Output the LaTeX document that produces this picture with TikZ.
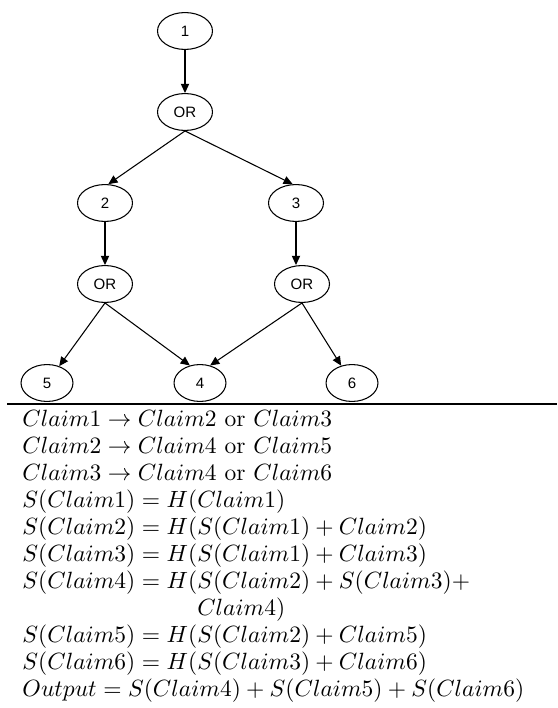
\documentclass[tikz,border=0pt]{standalone}
\usepackage{fontspec}
\newfontfamily\nodefont{Liberation Sans}
\usetikzlibrary{arrows.meta,shapes.geometric}

\tikzset{
  claim/.style={draw, ellipse, line width=0.45pt, inner sep=0pt,
    minimum width=23.4pt, minimum height=15.7pt, font=\fontsize{6.4}{7.5}\nodefont},
  leaf/.style={claim, minimum width=22.1pt},
  gate/.style={claim},
  edge/.style={-{Triangle[length=3.9pt,width=3.5pt]}, line width=0.45pt},
  eq/.style={anchor=base west, inner sep=0pt, font=\fontsize{10}{12}\selectfont}
}

\begin{document}
\begin{tikzpicture}[x=0.4255pt, y=-0.4255pt]
  \useasboundingbox (0,0) rectangle (557,708);
  % claim tree
  \node[claim] (c1) at (185,31) {1};
  \node[gate] (orTop) at (185,112) {OR};
  \node[claim] (c2) at (105,203) {2};
  \node[claim] (c3) at (296,203) {3};
  \node[gate] (orLeft) at (105,284) {OR};
  \node[gate] (orRight) at (302,284) {OR};
  \node[leaf] (c5) at (47,383) {5};
  \node[leaf] (c4) at (200,383) {4};
  \node[leaf] (c6) at (352,383) {6};
  % edges
  \draw[edge] (c1) -- (orTop);
  \draw[edge] (orTop.south) -- (c2.80);
  \draw[edge] (orTop.south) -- (c3.100);
  \draw[edge] (c2) -- (orLeft);
  \draw[edge] (c3) -- (c3 |- orRight.north);
  \draw[edge] (orLeft.south) -- (c5);
  \draw[edge] (orLeft.south) -- (c4.120);
  \draw[edge] (orRight.south) -- (c4.60);
  \draw[edge] (orRight.south) -- (c6);
  % separating rule
  \coordinate (ruleL) at (7,404);
  \coordinate (ruleR) at (557,404);
  \draw[line width=0.55pt] (ruleL) -- (ruleR);
  % hash rules
  \node[eq] (eq1) at (22,426) {$Claim1 \rightarrow Claim2$ or $Claim3$};
  \node[eq] (eq2) at (22,453) {$Claim2 \rightarrow Claim4$ or $Claim5$};
  \node[eq] (eq3) at (22,480) {$Claim3 \rightarrow Claim4$ or $Claim6$};
  \node[eq] (eq4) at (22,507) {$S(Claim1) = H(Claim1)$};
  \node[eq] (eq5) at (22,534) {$S(Claim2) = H(S(Claim1) + Claim2)$};
  \node[eq] (eq6) at (22,561) {$S(Claim3) = H(S(Claim1) + Claim3)$};
  \node[eq] (eq7) at (22,588) {$S(Claim4) = H(S(Claim2) + S(Claim3)+$};
  \node[eq] (eq7b) at (22,615) {$\phantom{S(Claim4) = H(}Claim4)$};
  \node[eq] (eq8) at (22,642) {$S(Claim5) = H(S(Claim2) + Claim5)$};
  \node[eq] (eq9) at (22,669) {$S(Claim6) = H(S(Claim3) + Claim6)$};
  \node[eq] (eq10) at (22,696) {$Output = S(Claim4) + S(Claim5) + S(Claim6)$};
\end{tikzpicture}
\end{document}
